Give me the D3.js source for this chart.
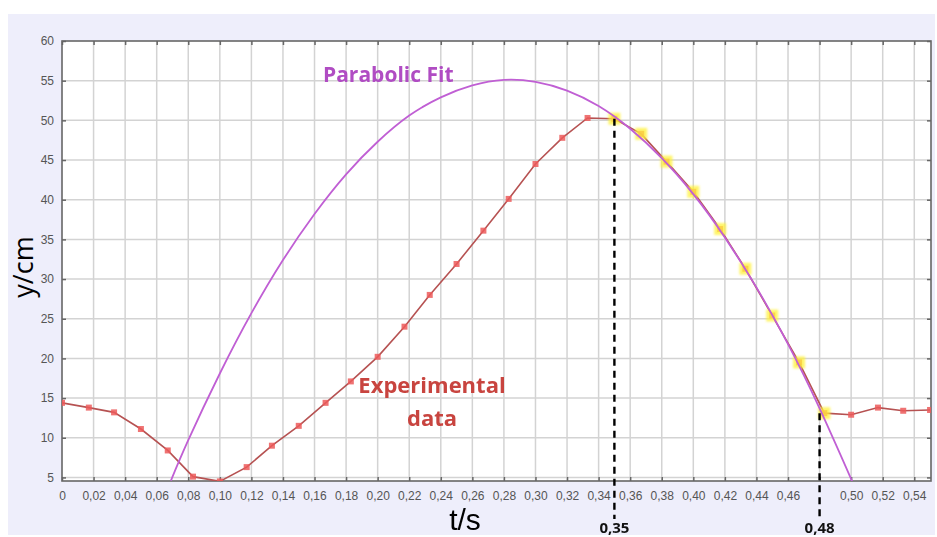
<!DOCTYPE html>
<html>
<head>
<meta charset="utf-8">
<script src="https://cdn.jsdelivr.net/npm/d3@7"></script>
<style>
  html, body { margin: 0; padding: 0; background: #fff; }
  svg { display: block; }
</style>
</head>
<body>
<div class="chart"></div>
<script>
// experimental data (t in s, y in cm)
const expT = [0, 0.017, 0.033, 0.05, 0.067, 0.083, 0.1, 0.117, 0.133, 0.15, 0.167, 0.183,
  0.2, 0.217, 0.233, 0.25, 0.267, 0.283, 0.3, 0.317, 0.333, 0.35, 0.367, 0.383,
  0.4, 0.417, 0.433, 0.45, 0.467, 0.483, 0.5, 0.517, 0.533, 0.55];
const expY = [14.4, 13.8, 13.2, 11.1, 8.4, 5.1, 4.5, 6.3, 9.0, 11.5, 14.4, 17.1,
  20.2, 24.0, 28.0, 31.9, 36.1, 40.1, 44.5, 47.8, 50.3, 50.2, 48.3, 44.8,
  41.0, 36.3, 31.3, 25.4, 19.5, 13.1, 12.9, 13.8, 13.4, 13.5];
// points used for the fit (highlighted)
const fitIdx = [21, 22, 23, 24, 25, 26, 27, 28, 29];

// parabolic fit curve
const fitT = [0.069, 0.08, 0.1, 0.12, 0.14, 0.16, 0.18, 0.2, 0.22, 0.24, 0.26, 0.28,
  0.3, 0.32, 0.34, 0.36, 0.38, 0.4, 0.42, 0.44, 0.46, 0.48, 0.5, 0.502];
const fitY = [4.6, 9.7, 18.1, 25.7, 32.4, 38.2, 43.2, 47.3, 50.6, 52.9, 54.4, 55.1,
  54.85, 53.75, 51.8, 48.95, 45.25, 40.7, 35.25, 28.95, 21.8, 13.7, 4.8, 3.9];

// ticks
const xTicks = [0, 0.02, 0.04, 0.06, 0.08, 0.10, 0.12, 0.14, 0.16, 0.18, 0.20, 0.22, 0.24,
  0.26, 0.28, 0.30, 0.32, 0.34, 0.36, 0.38, 0.40, 0.42, 0.44, 0.46, 0.48, 0.50, 0.52, 0.54];
const xTickLabels = ["0", "0,02", "0,04", "0,06", "0,08", "0,10", "0,12", "0,14", "0,16", "0,18",
  "0,20", "0,22", "0,24", "0,26", "0,28", "0,30", "0,32", "0,34", "0,36", "0,38", "0,40",
  "0,42", "0,44", "0,46", "", "0,50", "0,52", "0,54"];
const yTicks = [5, 10, 15, 20, 25, 30, 35, 40, 45, 50, 55, 60];

// annotation marks
const markT = [0.35, 0.48];
const markY = [50.2, 13.1];
const markLabels = ["0,35", "0,48"];

const W = 937, H = 537;
const plot = { left: 62, top: 41, right: 931, bottom: 481 };

const svg = d3.select(".chart").append("svg")
  .attr("width", W)
  .attr("height", H);

const defs = svg.append("defs");
defs.append("clipPath").attr("id", "plotClip")
  .append("rect")
  .attr("x", plot.left).attr("y", plot.top)
  .attr("width", plot.right - plot.left).attr("height", plot.bottom - plot.top);
defs.append("filter").attr("id", "soft")
  .append("feGaussianBlur").attr("stdDeviation", 1.1);

// lavender panel
svg.append("rect")
  .attr("x", 8).attr("y", 14)
  .attr("width", 927).attr("height", 521)
  .attr("fill", "#eeeefb");

svg.append("rect")
  .attr("x", plot.left).attr("y", plot.top)
  .attr("width", plot.right - plot.left).attr("height", plot.bottom - plot.top)
  .attr("fill", "#fff");

const x = d3.scaleLinear().domain([0, 0.5506]).range([plot.left, plot.right]);
const y = d3.scaleLinear().domain([4.55, 60]).range([plot.bottom, plot.top]);

// grid
svg.append("g")
  .selectAll("line")
  .data(xTicks.filter(d => d > 0))
  .join("line")
  .attr("x1", d => x(d)).attr("x2", d => x(d))
  .attr("y1", plot.top).attr("y2", plot.bottom)
  .attr("stroke", "#d3d3d3").attr("stroke-width", 1.5);
svg.append("g")
  .selectAll("line")
  .data(yTicks.filter(d => d < 60))
  .join("line")
  .attr("x1", plot.left).attr("x2", plot.right)
  .attr("y1", d => y(d)).attr("y2", d => y(d))
  .attr("stroke", "#d3d3d3").attr("stroke-width", 1.5);

// axes (ticks point inward)
const axisColor = "#666";
const styleAxis = g => {
  g.select(".domain").remove();
  g.selectAll(".tick line").attr("stroke", axisColor).attr("stroke-width", 1.5);
  g.selectAll(".tick text")
    .attr("fill", "#555")
    .style("font-family", "'Liberation Sans', Arial, sans-serif")
    .style("font-size", "12px");
};

svg.append("g")
  .attr("transform", `translate(0,${plot.bottom})`)
  .call(d3.axisBottom(x).tickValues(xTicks).tickSizeInner(-4).tickSizeOuter(0)
    .tickPadding(10).tickFormat((d, i) => xTickLabels[i]))
  .call(styleAxis);
svg.append("g")
  .attr("transform", `translate(0,${plot.top})`)
  .call(d3.axisTop(x).tickValues(xTicks).tickSizeInner(-4).tickSizeOuter(0).tickFormat(""))
  .call(styleAxis);
svg.append("g")
  .attr("transform", `translate(${plot.left},0)`)
  .call(d3.axisLeft(y).tickValues(yTicks).tickSizeInner(-4).tickSizeOuter(0).tickPadding(8))
  .call(styleAxis);
svg.append("g")
  .attr("transform", `translate(${plot.right},0)`)
  .call(d3.axisRight(y).tickValues(yTicks).tickSizeInner(-4).tickSizeOuter(0).tickFormat(""))
  .call(styleAxis);

// frame
svg.append("rect")
  .attr("x", plot.left).attr("y", plot.top)
  .attr("width", plot.right - plot.left).attr("height", plot.bottom - plot.top)
  .attr("fill", "none").attr("stroke", axisColor).attr("stroke-width", 1.6);

const layer = svg.append("g").attr("clip-path", "url(#plotClip)");

// experimental line + markers
const expData = expT.map((t, i) => ({ t, v: expY[i], i }));
layer.append("path")
  .datum(expData)
  .attr("fill", "none")
  .attr("stroke", "#b65252")
  .attr("stroke-width", 1.6)
  .attr("d", d3.line().x(d => x(d.t)).y(d => y(d.v)));

layer.append("g")
  .selectAll("rect")
  .data(expData)
  .join("rect")
  .attr("x", d => x(d.t) - 3).attr("y", d => y(d.v) - 3)
  .attr("width", 6).attr("height", 6)
  .attr("fill", "#ec5a5a").attr("opacity", 0.85);

// highlighted fit points
layer.append("g")
  .attr("filter", "url(#soft)")
  .selectAll("rect")
  .data(fitIdx.map(i => expData[i]))
  .join("rect")
  .attr("x", d => x(d.t) - 6).attr("y", d => y(d.v) - 6)
  .attr("width", 12).attr("height", 12)
  .attr("fill", "#fff23a").attr("opacity", 0.75);

// parabolic fit
layer.append("path")
  .datum(fitT.map((t, i) => ({ t, v: fitY[i] })))
  .attr("fill", "none")
  .attr("stroke", "#c05fd4")
  .attr("stroke-width", 1.8)
  .attr("d", d3.line().x(d => x(d.t)).y(d => y(d.v)).curve(d3.curveNatural));

// dashed markers
svg.append("g")
  .selectAll("line")
  .data(markT)
  .join("line")
  .attr("x1", d => x(d)).attr("x2", d => x(d))
  .attr("y1", (d, i) => y(markY[i]))
  .attr("y2", 519)
  .attr("stroke", "#000")
  .attr("stroke-width", 2.4)
  .attr("stroke-dasharray", "7,5");

svg.append("g")
  .selectAll("text")
  .data(markT)
  .join("text")
  .attr("x", d => x(d))
  .attr("y", 533)
  .attr("text-anchor", "middle")
  .style("font-family", "'Open Sans', sans-serif")
  .style("font-weight", "bold")
  .style("font-size", "15px")
  .attr("fill", "#111")
  .text((d, i) => markLabels[i]);

// axis titles
svg.append("text")
  .attr("x", 465).attr("y", 530)
  .attr("text-anchor", "middle")
  .style("font-family", "'Liberation Sans', Arial, sans-serif")
  .style("font-size", "30px")
  .attr("fill", "#000")
  .text("t/s");

svg.append("text")
  .attr("transform", "translate(33,267) rotate(-90)")
  .attr("text-anchor", "middle")
  .style("font-family", "'Open Sans', sans-serif")
  .style("font-size", "27px")
  .attr("fill", "#000")
  .text("y/cm");

// series labels
svg.append("text")
  .attr("x", 323).attr("y", 82)
  .style("font-family", "'Open Sans', sans-serif")
  .style("font-weight", "bold")
  .style("font-size", "21px")
  .attr("fill", "#b04cc3")
  .text("Parabolic Fit");

const expLabel = svg.append("text")
  .attr("text-anchor", "middle")
  .style("font-family", "'Open Sans', sans-serif")
  .style("font-weight", "bold")
  .style("font-size", "22px")
  .attr("fill", "#c8443f");
expLabel.append("tspan").attr("x", 432).attr("y", 393).text("Experimental");
expLabel.append("tspan").attr("x", 432).attr("y", 426).text("data");
</script>
</body>
</html>
